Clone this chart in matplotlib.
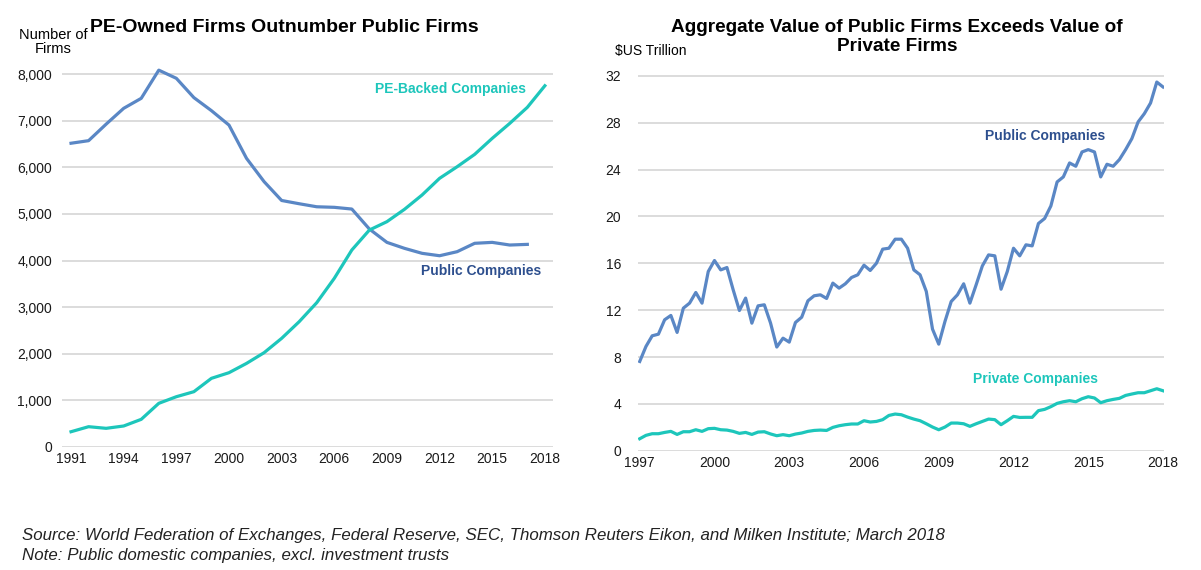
import numpy as np
import matplotlib
matplotlib.use("Agg")
import matplotlib.pyplot as plt
from matplotlib.ticker import StrMethodFormatter

plt.rcParams["font.family"] = ["Liberation Sans", "DejaVu Sans"]

# Left chart: annual firm counts
years = list(range(1991, 2019))
public_firms = [6520, 6575, 6930, 7270, 7485, 8090, 7915, 7500, 7220, 6910,
                6195, 5695, 5290, 5220, 5155, 5143, 5106, 4677, 4390, 4262,
                4155, 4103, 4190, 4370, 4390, 4333, 4347]
pe_firms = [322, 430, 395, 445, 588, 932, 1074, 1182, 1469, 1590,
            1790, 2020, 2328, 2686, 3094, 3617, 4226, 4655, 4835, 5100,
            5407, 5766, 6015, 6281, 6625, 6947, 7291, 7755]

# Right chart: quarterly aggregate value, 1997Q1 - 2018Q1 ($US trillion)
public_value = [7.62, 8.90, 9.81, 9.95, 11.18, 11.55, 10.10, 12.17, 12.60, 13.51,
                12.60, 15.30, 16.24, 15.44, 15.64, 13.74, 11.97, 13.03, 10.89, 12.37,
                12.46, 10.90, 8.85, 9.61, 9.27, 10.95, 11.40, 12.80, 13.23, 13.31,
                13.00, 14.31, 13.88, 14.25, 14.79, 15.02, 15.84, 15.39, 16.01, 17.21,
                17.29, 18.06, 18.06, 17.29, 15.44, 15.02, 13.60, 10.38, 9.10, 11.04,
                12.74, 13.31, 14.25, 12.60, 14.16, 15.78, 16.72, 16.64, 13.79, 15.30,
                17.29, 16.64, 17.58, 17.49, 19.40, 19.83, 20.90, 22.95, 23.38, 24.57,
                24.29, 25.51, 25.71, 25.51, 23.38, 24.46, 24.29, 24.86, 25.71, 26.65,
                28.07, 28.78, 29.69, 31.48, 31.06]
private_value = [1.02, 1.31, 1.45, 1.45, 1.56, 1.65, 1.39, 1.62, 1.62, 1.79,
                 1.65, 1.88, 1.91, 1.79, 1.76, 1.65, 1.48, 1.56, 1.39, 1.59,
                 1.62, 1.43, 1.28, 1.37, 1.28, 1.42, 1.51, 1.65, 1.73, 1.76,
                 1.73, 1.99, 2.13, 2.22, 2.28, 2.28, 2.56, 2.45, 2.50, 2.65,
                 3.01, 3.13, 3.07, 2.87, 2.70, 2.56, 2.30, 2.02, 1.79, 2.02,
                 2.36, 2.36, 2.30, 2.08, 2.30, 2.50, 2.70, 2.65, 2.22, 2.56,
                 2.93, 2.84, 2.85, 2.85, 3.42, 3.53, 3.76, 4.04, 4.18, 4.27,
                 4.18, 4.44, 4.61, 4.50, 4.10, 4.27, 4.38, 4.47, 4.72, 4.84,
                 4.95, 4.95, 5.12, 5.29, 5.12]
quarters = 1997 + np.arange(len(public_value)) / 4

left_xticks = list(range(1991, 2019, 3))
right_xticks = list(range(1997, 2019, 3))

BLUE = "#5A87C5"
TEAL = "#1DC6BB"
DARK_BLUE = "#2D4F8E"
GRID = "#D9D9D9"


def style_axis(ax):
    for s in ax.spines.values():
        s.set_visible(False)
    ax.yaxis.grid(True, color=GRID, lw=1.3)
    ax.set_axisbelow(True)
    ax.tick_params(length=0, labelsize=10, colors="#1a1a1a")


fig = plt.figure(figsize=(12.01, 5.70), dpi=100)

# Left panel
ax1 = fig.add_axes([0.0514, 0.2163, 0.409, 0.6696])
style_axis(ax1)
ax1.plot(years[:-1], public_firms, color=BLUE, lw=2.3, solid_joinstyle="round")
ax1.plot(years, pe_firms, color=TEAL, lw=2.3, solid_joinstyle="round")
ax1.set_xlim(1990.47, 2018.46)
ax1.set_ylim(0, 8200)
ax1.set_yticks(range(0, 8001, 1000))
ax1.yaxis.set_major_formatter(StrMethodFormatter("{x:,.0f}"))
ax1.set_xticks(left_xticks)
ax1.tick_params(axis="y", pad=7)
ax1.tick_params(axis="x", pad=4)
ax1.text(2016.9, 7685, "PE-Backed Companies", color=TEAL, fontsize=10,
         fontweight="bold", ha="right", va="center")
ax1.text(2014.35, 3775, "Public Companies", color=DARK_BLUE, fontsize=10,
         fontweight="bold", ha="center", va="center")

# Right panel
ax2 = fig.add_axes([0.531, 0.2093, 0.4382, 0.678])
style_axis(ax2)
ax2.plot(quarters, public_value, color=BLUE, lw=2.3, solid_joinstyle="round")
ax2.plot(quarters, private_value, color=TEAL, lw=2.3, solid_joinstyle="round")
ax2.set_xlim(1996.92, 2018.04)
ax2.set_ylim(0, 33)
ax2.set_yticks(range(0, 33, 4))
ax2.set_xticks(right_xticks)
ax2.tick_params(axis="y", pad=12)
ax2.tick_params(axis="x", pad=4)
ax2.text(2013.27, 26.9, "Public Companies", color=DARK_BLUE, fontsize=10,
         fontweight="bold", ha="center", va="center")
ax2.text(2012.9, 6.1, "Private Companies", color=TEAL, fontsize=10,
         fontweight="bold", ha="center", va="center")

# Titles and axis captions
fig.text(0.2366, 0.9526, "PE-Owned Firms Outnumber Public Firms",
         fontsize=14, fontweight="bold", ha="center", va="center")
fig.text(0.7469, 0.951, "Aggregate Value of Public Firms Exceeds Value of",
         fontsize=13.7, fontweight="bold", ha="center", va="center")
fig.text(0.7469, 0.918, "Private Firms",
         fontsize=13.7, fontweight="bold", ha="center", va="center")
fig.text(0.044, 0.927, "Number of\nFirms", fontsize=10.5, ha="center", va="center",
         linespacing=1.0)
fig.text(0.512, 0.911, "$US Trillion", fontsize=10, ha="left", va="center")

footer_font = ["Liberation Sans Narrow", "Liberation Sans", "DejaVu Sans"]
fig.text(0.018, 0.061,
         "Source: World Federation of Exchanges, Federal Reserve, SEC, Thomson Reuters Eikon, "
         "and Milken Institute; March 2018",
         fontsize=12.2, style="italic", family=footer_font, color="#222222", va="center")
fig.text(0.018, 0.026, "Note: Public domestic companies, excl. investment trusts",
         fontsize=12.2, style="italic", family=footer_font, color="#222222", va="center")

fig.savefig("out.png", dpi=100)
